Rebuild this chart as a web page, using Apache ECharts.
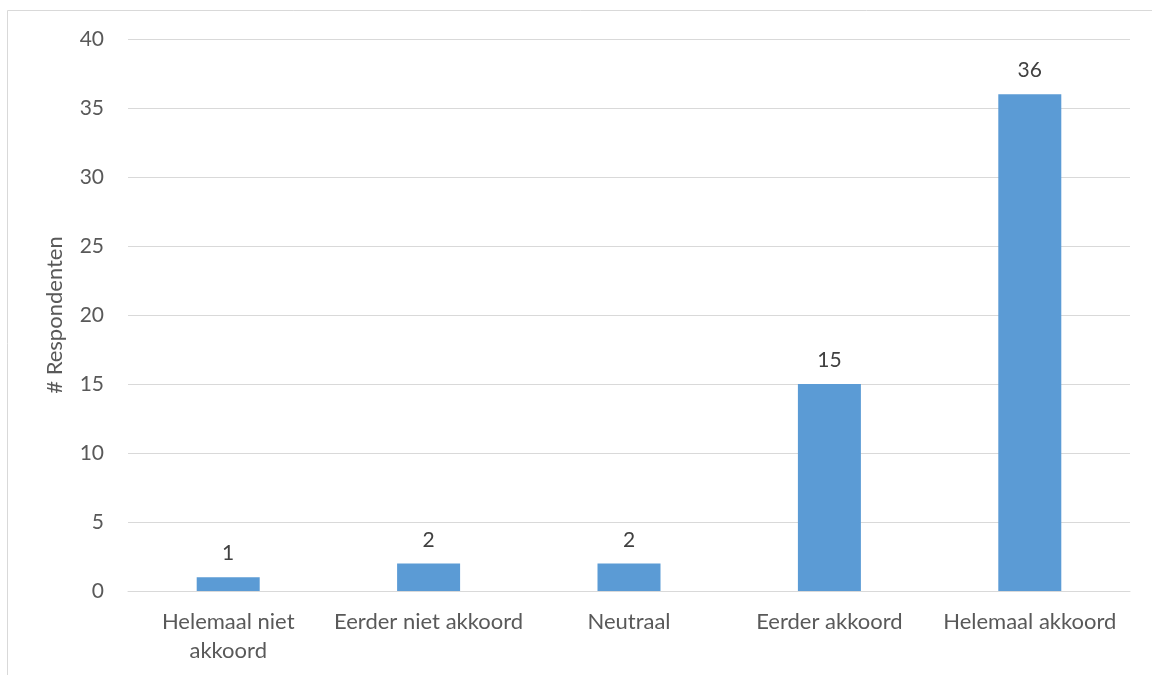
<!DOCTYPE html>
<html>
<head>
<meta charset="utf-8">
<script src="https://cdn.jsdelivr.net/npm/echarts@6/dist/echarts.min.js"></script>
<style>
html,body{margin:0;padding:0;background:#fff;}
#c{width:1152px;height:675px;}
</style>
</head>
<body>
<div id="c"></div>
<script>
var categories = ['Helemaal niet\nakkoord', 'Eerder niet akkoord', 'Neutraal', 'Eerder akkoord', 'Helemaal akkoord'];
var values = [1, 2, 2, 15, 36];
var yTicks = {min: 0, max: 40, interval: 5};
var yName = '# Respondenten';

var chart = echarts.init(document.getElementById('c'));
var font = 'Lato, "Open Sans", sans-serif';
chart.setOption({
  animation: false,
  graphic: [{
    type: 'rect', shape: {x: 7.5, y: 10.5, width: 1200, height: 700},
    style: {fill: 'none', stroke: '#d9d9d9', lineWidth: 1}, silent: true
  }],
  grid: {left: 128, right: 22, top: 39, bottom: 84, containLabel: false},
  xAxis: {
    type: 'category', data: categories,
    axisLine: {show: true, lineStyle: {color: '#d9d9d9', width: 1}},
    axisTick: {show: false},
    axisLabel: {color: '#595959', fontSize: 22, fontFamily: font, margin: 16, lineHeight: 29, interval: 0}
  },
  yAxis: {
    type: 'value', min: yTicks.min, max: yTicks.max, interval: yTicks.interval,
    name: yName, nameLocation: 'middle', nameGap: 62, nameRotate: 90,
    nameTextStyle: {color: '#595959', fontSize: 22, fontFamily: font, padding: [0, 0, 0, 0]},
    axisLine: {show: false}, axisTick: {show: false},
    axisLabel: {color: '#595959', fontSize: 21, fontFamily: font, margin: 24},
    splitLine: {lineStyle: {color: '#d9d9d9', width: 1}}
  },
  series: [{
    type: 'bar', data: values, barWidth: 63,
    itemStyle: {color: '#5b9bd5'},
    label: {show: true, position: 'top', distance: 13, color: '#404040', fontSize: 21, fontFamily: font}
  }]
});
</script>
</body>
</html>
